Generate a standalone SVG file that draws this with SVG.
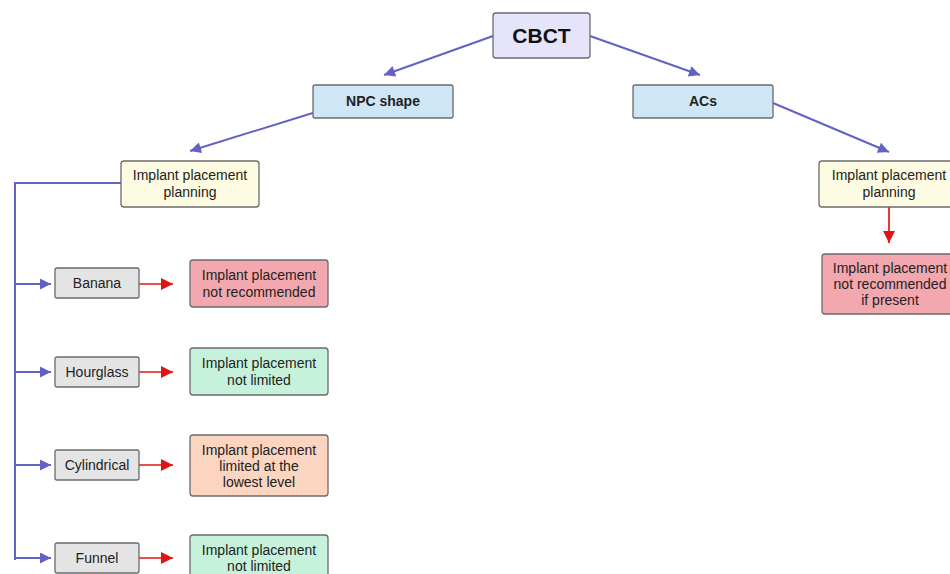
<svg xmlns="http://www.w3.org/2000/svg" width="950" height="574" viewBox="0 0 950 574">
<defs>
<marker id="ab" viewBox="0 0 10 10" refX="10" refY="5" markerWidth="13" markerHeight="11" markerUnits="userSpaceOnUse" orient="auto"><path d="M0,0 L10,5 L0,10 z" fill="#6262c4"/></marker>
<marker id="ar" viewBox="0 0 10 10" refX="10" refY="5" markerWidth="13" markerHeight="12" markerUnits="userSpaceOnUse" orient="auto"><path d="M0,0 L10,5 L0,10 z" fill="#e01414"/></marker>
</defs>
<style>
.b{stroke:#6b6b6b;stroke-width:1.3}
.t{font-family:"Liberation Sans",Arial,sans-serif;font-size:14px;fill:#222;text-anchor:middle}
.bl{fill:none;stroke:#6262c4;stroke-width:2}
.rd{fill:none;stroke:#e01414;stroke-width:1.7}
</style>
<rect width="950" height="574" fill="#fff"/>
<g id="connectors">
<line class="bl" x1="493" y1="36" x2="384" y2="75" marker-end="url(#ab)"/>
<line class="bl" x1="590" y1="36" x2="700" y2="75" marker-end="url(#ab)"/>
<line class="bl" x1="316" y1="112" x2="190" y2="151" marker-end="url(#ab)"/>
<line class="bl" x1="773" y1="103" x2="889" y2="152" marker-end="url(#ab)"/>
<polyline class="bl" points="121,183 15,183 15,560"/>
<line class="bl" x1="15" y1="284" x2="51" y2="284" marker-end="url(#ab)"/>
<line class="bl" x1="15" y1="372" x2="51" y2="372" marker-end="url(#ab)"/>
<line class="bl" x1="15" y1="465" x2="51" y2="465" marker-end="url(#ab)"/>
<line class="bl" x1="15" y1="558" x2="51" y2="558" marker-end="url(#ab)"/>
<line class="rd" x1="139" y1="284" x2="173" y2="284" marker-end="url(#ar)"/>
<line class="rd" x1="139" y1="372" x2="173" y2="372" marker-end="url(#ar)"/>
<line class="rd" x1="139" y1="465" x2="173" y2="465" marker-end="url(#ar)"/>
<line class="rd" x1="139" y1="558" x2="173" y2="558" marker-end="url(#ar)"/>
<line class="rd" x1="889" y1="207" x2="889" y2="243" marker-end="url(#ar)"/>
</g>
<g id="cbct"><rect class="b" x="493" y="13" width="97" height="45" rx="3" fill="#e6e4fa"/><text x="541.5" y="43" font-family="Liberation Sans,Arial,sans-serif" font-size="21" font-weight="bold" text-anchor="middle" fill="#111">CBCT</text></g>
<g id="npc"><rect class="b" x="313" y="85" width="140" height="33" rx="2" fill="#cfe6f6"/><text class="t" x="383" y="106" font-weight="bold">NPC shape</text></g>
<g id="acs"><rect class="b" x="633" y="85" width="140" height="33" rx="2" fill="#cfe6f6"/><text class="t" x="703" y="106" font-weight="bold">ACs</text></g>
<g id="planL"><rect class="b" x="121" y="161" width="138" height="46" rx="3" fill="#fdfbe1"/><text class="t" x="190" y="180">Implant placement</text><text class="t" x="190" y="197">planning</text></g>
<g id="planR"><rect class="b" x="819" y="161" width="138" height="46" rx="3" fill="#fdfbe1"/><text class="t" x="889" y="180">Implant placement</text><text class="t" x="889" y="197">planning</text></g>
<g id="resR"><rect class="b" x="822" y="254" width="135" height="60" rx="3" fill="#f3a7ae"/><text class="t" x="890" y="273">Implant placement</text><text class="t" x="890" y="289">not recommended</text><text class="t" x="890" y="305">if present</text></g>
<g id="banana"><rect class="b" x="55" y="268" width="84" height="30" rx="2" fill="#e4e4e4"/><text class="t" x="97" y="288">Banana</text></g>
<g id="hourglass"><rect class="b" x="55" y="357" width="84" height="30" rx="2" fill="#e4e4e4"/><text class="t" x="97" y="377">Hourglass</text></g>
<g id="cylindrical"><rect class="b" x="55" y="450" width="84" height="30" rx="2" fill="#e4e4e4"/><text class="t" x="97" y="470">Cylindrical</text></g>
<g id="funnel"><rect class="b" x="55" y="543" width="84" height="30" rx="2" fill="#e4e4e4"/><text class="t" x="97" y="563">Funnel</text></g>
<g id="res1"><rect class="b" x="190" y="260" width="138" height="47" rx="3" fill="#f3a7ae"/><text class="t" x="259" y="280">Implant placement</text><text class="t" x="259" y="297">not recommended</text></g>
<g id="res2"><rect class="b" x="190" y="348" width="138" height="47" rx="3" fill="#c6f2dc"/><text class="t" x="259" y="368">Implant placement</text><text class="t" x="259" y="385">not limited</text></g>
<g id="res3"><rect class="b" x="190" y="435" width="138" height="61" rx="3" fill="#fbd5c0"/><text class="t" x="259" y="455">Implant placement</text><text class="t" x="259" y="471">limited at the</text><text class="t" x="259" y="487">lowest level</text></g>
<g id="res4"><rect class="b" x="190" y="535" width="138" height="47" rx="3" fill="#c6f2dc"/><text class="t" x="259" y="555">Implant placement</text><text class="t" x="259" y="571">not limited</text></g>
</svg>
